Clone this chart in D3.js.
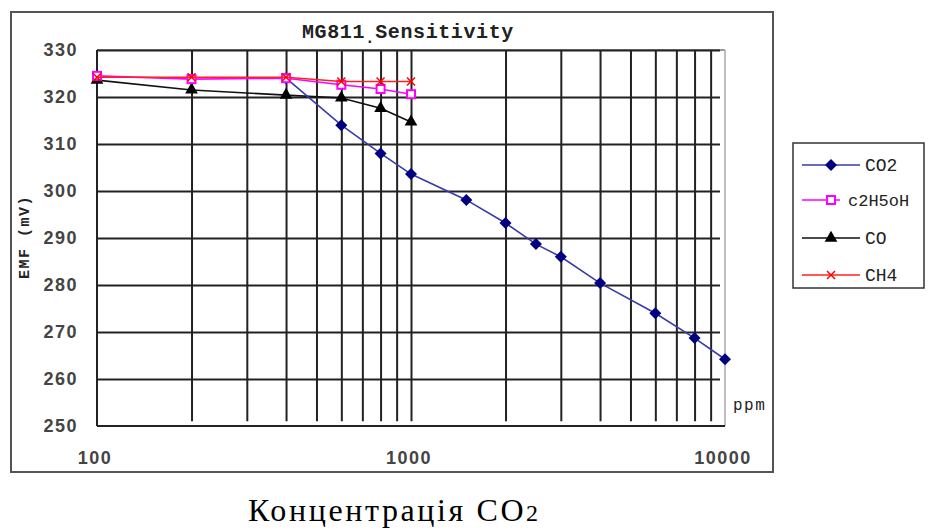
<!DOCTYPE html>
<html>
<head>
<meta charset="utf-8">
<script src="https://cdn.jsdelivr.net/npm/d3@7"></script>
<style>
  body { margin: 0; background: #fff; }
  svg { display: block; }
</style>
</head>
<body>
<svg width="932" height="529"></svg>
<script>
// data
const basePpm = [100, 200, 400, 600, 800, 1000];
const co2Ppm = [400, 600, 800, 1000, 1500, 2000, 2500, 3000, 4000, 6000, 8000, 10000];
const co2Emf = [324, 314, 308, 303.6, 298.1, 293.2, 288.7, 286, 280.4, 274, 268.7, 264.2];
const ethanolEmf = [324.5, 323.8, 324, 322.6, 321.7, 320.6];
const coEmf = [323.6, 321.5, 320.4, 319.8, 317.6, 314.7];
const ch4Emf = [324.2, 324.2, 324.2, 323.3, 323.3, 323.3];
const yTicks = [250, 260, 270, 280, 290, 300, 310, 320, 330];
const xLabels = [100, 1000, 10000];

const svg = d3.select('svg');

const x = d3.scaleLog().domain([100, 10000]).range([97, 725]);
const y = d3.scaleLinear().domain([250, 330]).range([426, 50]);

const gridColor = '#222';
const numFont = '"Liberation Sans", Arial, sans-serif';
const monoFont = '"Liberation Mono", "DejaVu Sans Mono", monospace';

// outer frame
svg.append('rect')
    .attr('x', 11).attr('y', 12)
    .attr('width', 762).attr('height', 460)
    .attr('fill', '#fff')
    .attr('stroke', '#555')
    .attr('stroke-width', 2)

// plot border: top and right are light grey
svg.append('line')
    .attr('x1', x(100)).attr('x2', x(10000))
    .attr('y1', y(330)).attr('y2', y(330))
    .attr('stroke', '#999').attr('stroke-width', 2)
svg.append('line')
    .attr('x1', x(10000)).attr('x2', x(10000))
    .attr('y1', y(330)).attr('y2', y(250))
    .attr('stroke', '#aaa').attr('stroke-width', 1.5)

// horizontal grid
svg.append('g')
    .attr('transform', `translate(${ x(100) }, 0)`)
    .call(d3.axisLeft(y).tickValues(yTicks.filter(d => d > 250)).tickSize(-(x(10000) - x(100) - 5)).tickFormat(''))
    .call(g => g.select('.domain').remove())
    .call(g => g.selectAll('line').attr('stroke', gridColor).attr('stroke-width', 2))

// vertical grid
svg.append('g')
    .attr('transform', `translate(0, ${ y(251) })`)
    .call(d3.axisBottom(x).tickValues(x.ticks().filter(d => d > 100 && d < 10000)).tickSize(-(y(251) - y(330))).tickFormat(''))
    .call(g => g.select('.domain').remove())
    .call(g => g.selectAll('line').attr('stroke', gridColor).attr('stroke-width', 2))

// left and bottom axis lines
svg.append('line')
    .attr('x1', x(100)).attr('x2', x(100))
    .attr('y1', y(330)).attr('y2', y(250))
    .attr('stroke', gridColor).attr('stroke-width', 2)
svg.append('line')
    .attr('x1', x(100)).attr('x2', x(10000))
    .attr('y1', y(250)).attr('y2', y(250))
    .attr('stroke', gridColor).attr('stroke-width', 2)

// y tick labels
svg.append('g')
    .selectAll('text')
    .data(yTicks)
    .join('text')
    .attr('x', 78)
    .attr('y', d => y(d))
    .attr('dy', '0.36em')
    .attr('text-anchor', 'end')
    .attr('font-family', numFont)
    .attr('font-weight', 'bold')
    .attr('font-size', 18)
    .attr('letter-spacing', 1.5)
    .attr('fill', '#444')
    .text(d => d)

// x tick labels
svg.append('g')
    .selectAll('text')
    .data(xLabels)
    .join('text')
    .attr('x', d => x(d) - 2)
    .attr('y', 464)
    .attr('text-anchor', 'middle')
    .attr('font-family', numFont)
    .attr('font-weight', 'bold')
    .attr('font-size', 18)
    .attr('letter-spacing', 1.5)
    .attr('fill', '#444')
    .text(d => d)

// y axis title
svg.append('text')
    .attr('transform', 'translate(29, 237) rotate(-90)')
    .attr('text-anchor', 'middle')
    .attr('font-family', monoFont)
    .attr('font-weight', 'bold')
    .attr('font-size', 15)
    .attr('letter-spacing', 1.5)
    .attr('fill', '#222')
    .text('EMF (mV)')

// title
const title = svg.append('text')
    .attr('x', 302)
    .attr('y', 38)
    .attr('font-family', monoFont)
    .attr('font-weight', 'bold')
    .attr('font-size', 20)
    .attr('letter-spacing', 0.6)
    .attr('fill', '#222')
title.append('tspan').text('MG811')
title.append('tspan').attr('dy', 5).attr('font-size', 16).text('.')
title.append('tspan').attr('dy', -5).text('Sensitivity')

// ppm label
svg.append('text')
    .attr('x', 733)
    .attr('y', 410)
    .attr('font-family', monoFont)
    .attr('font-size', 16)
    .attr('letter-spacing', 1.5)
    .attr('fill', '#222')
    .text('ppm')

const line = d3.line().x(d => x(d[0])).y(d => y(d[1]));

const series = [
    { name: 'CO2', ppm: co2Ppm, emf: co2Emf, color: '#3a3aa8', mark: '#000080' },
    { name: 'c2H5oH', ppm: basePpm, emf: ethanolEmf, color: '#ff00ff', mark: '#ff00ff' },
    { name: 'CO', ppm: basePpm, emf: coEmf, color: '#111', mark: '#000' },
    { name: 'CH4', ppm: basePpm, emf: ch4Emf, color: '#ff2020', mark: '#ff0000' }
];

function drawMarker(sel, s) {
    if (s.name === 'c2H5oH') {
        sel.append('rect')
            .attr('x', -4).attr('y', -4).attr('width', 8).attr('height', 8)
            .attr('fill', '#fff').attr('stroke', s.mark).attr('stroke-width', 2)
    } else if (s.name === 'CH4') {
        sel.append('path')
            .attr('d', 'M-4,-4L4,4M-4,4L4,-4')
            .attr('stroke', s.mark).attr('stroke-width', 1.5)
    } else if (s.name === 'CO2') {
        sel.append('path')
            .attr('d', 'M0,-6L6,0L0,6L-6,0Z')
            .attr('fill', s.mark)
    } else {
        sel.append('path')
            .attr('d', d3.symbol(d3.symbolTriangle, 70)())
            .attr('fill', s.mark)
    }
}

// draw back to front: CO, CO2, c2H5oH, CH4
const order = [2, 0, 1, 3];
order.forEach(i => {
    const s = series[i];
    const pts = s.ppm.map((p, j) => [p, s.emf[j]]);
    svg.append('path')
        .attr('d', line(pts))
        .attr('fill', 'none')
        .attr('stroke', s.color)
        .attr('stroke-width', 1.6)
    pts.forEach(p => {
        const g = svg.append('g').attr('transform', `translate(${ x(p[0]) }, ${ y(p[1]) })`);
        drawMarker(g, s);
    });
});

// legend
const legend = svg.append('g')
legend.append('rect')
    .attr('x', 793).attr('y', 143)
    .attr('width', 131).attr('height', 145)
    .attr('fill', '#fff')
    .attr('stroke', '#333')
    .attr('stroke-width', 1.5)

const legendY = [165, 200, 238, 275];
series.forEach((s, i) => {
    const row = legend.append('g').attr('transform', `translate(0, ${ legendY[i] })`);
    const short = s.name === 'c2H5oH';
    row.append('line')
        .attr('x1', 802).attr('x2', short ? 840 : 860)
        .attr('y1', 0).attr('y2', 0)
        .attr('stroke', s.color).attr('stroke-width', 1.6)
    drawMarker(row.append('g').attr('transform', 'translate(831, 0)'), s);
    row.append('text')
        .attr('x', short ? 848 : 865)
        .attr('y', 0)
        .attr('dy', '0.35em')
        .attr('font-family', monoFont)
        .attr('font-size', short ? 17 : 18)
        .attr('fill', '#222')
        .attr('stroke', '#fff').attr('stroke-width', 4).attr('paint-order', 'stroke')
        .text(s.name)
});

// caption
const caption = svg.append('text')
    .attr('x', 248)
    .attr('y', 521)
    .attr('font-family', '"Liberation Serif", "Times New Roman", serif')
    .attr('font-size', 32)
    .attr('letter-spacing', 2.6)
    .attr('fill', '#000')
caption.append('tspan').text('Концентрація CO')
caption.append('tspan').attr('font-size', 24).text('2')
</script>
</body>
</html>
